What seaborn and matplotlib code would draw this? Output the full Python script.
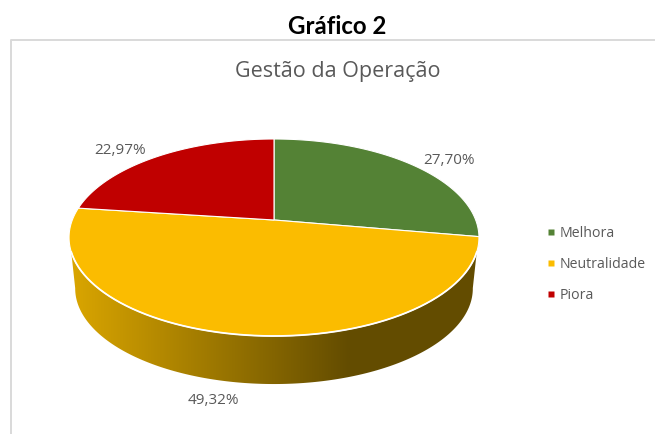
#!/usr/bin/env python
# -*- coding: utf-8 -*-

""" 3D looking pie chart of Gestao da Operacao, saved to out.png """

import numpy as np
import matplotlib as mpl
mpl.use('Agg')

import matplotlib.pyplot as plt
from matplotlib.colors import LinearSegmentedColormap
from matplotlib.lines import Line2D
from matplotlib.patches import Polygon
import seaborn as sns

categories = ['Melhora', 'Neutralidade', 'Piora']
shares = [27.70, 49.32, 22.97]
share_labels = ['27,70%', '49,32%', '22,97%']
colors = ['#548235', '#FBBC00', '#C00000']
side_colors = ['#D9A500', '#634C00']


def project(theta, scale=1.0, drop=0.0):
    # perspective view of the pie circle, axes are in pixels
    t = np.radians(theta)
    denom = 1 + 0.1777 * np.sin(t)
    x = 274 + scale * 201.7 * np.cos(t) / denom
    y = 220 + drop - scale * 95.4 * np.sin(t) / denom
    return np.column_stack([x, y])


def main():
    sns.set_theme(style='white')
    plt.rcParams['font.family'] = ['Open Sans', 'DejaVu Sans']

    fig = plt.figure(figsize=(6.55, 4.34), dpi=100)
    ax = fig.add_axes([0, 0, 1, 1])

    wedges, _ = ax.pie(shares, startangle=90, counterclock=False, frame=False)
    angles = [(w.theta1, w.theta2) for w in wedges]
    for w in wedges:
        w.remove()

    # side wall, only the visible part of the rim
    rim = np.linspace(-161.6, -18.4, 200)
    floor = np.linspace(-10, -170, 200)
    side = Polygon(np.vstack([project(rim), project(floor, 0.97, 51.5)]),
                   closed=True, facecolor='none', edgecolor='none')
    ax.add_patch(side)
    side_cmap = LinearSegmentedColormap.from_list('side', side_colors)
    img = ax.imshow(np.linspace(0, 1, 256).reshape(1, -1), cmap=side_cmap,
                    extent=[73, 350, 400, 240], aspect='auto', zorder=1)
    right = ax.imshow(np.ones((1, 2)), cmap=side_cmap, vmin=0, vmax=1,
                      extent=[350, 485, 400, 240], aspect='auto', zorder=1)
    left = ax.imshow(np.zeros((1, 2)), cmap=side_cmap, vmin=0, vmax=1,
                     extent=[60, 73, 400, 240], aspect='auto', zorder=1)
    img.set_clip_path(side)
    right.set_clip_path(side)
    left.set_clip_path(side)

    # top face
    for (theta1, theta2), color in zip(angles, colors):
        arc = project(np.linspace(theta1, theta2, 200))
        face = np.vstack([[[274, 220]], arc])
        ax.add_patch(Polygon(face, closed=True, facecolor=color, edgecolor='white',
                             linewidth=0.8, joinstyle='round', zorder=2))

    # white rim over the front of the top face
    ax.plot(*project(rim).T, color='white', lw=1.3, zorder=3)

    # chart frame
    ax.plot([11, 11, 655], [434, 40, 40], color='#D9D9D9', lw=1.4, zorder=0)

    label_pos = [(449, 160.5), (213, 401), (120, 150.5)]
    for (x, y), label in zip(label_pos, share_labels):
        ax.text(x, y, label, ha='center', va='center', fontsize=11, color='#595959')

    ax.text(337.5, 26, 'Gráfico 2', ha='center', va='center', fontsize=17.3,
            fontweight='bold', color='black', family=['Lato', 'DejaVu Sans'])
    ax.text(338, 72, 'Gestão da Operação', ha='center', va='center', fontsize=15.5,
            color='#595959')

    handles = [Line2D([], [], linestyle='none', marker='s', markersize=4.2,
                      markerfacecolor=c, markeredgecolor='none') for c in colors]
    ax.legend(handles, categories, loc='center left', bbox_to_anchor=(545, 264.5),
              bbox_transform=ax.transData, frameon=False, fontsize=10.2,
              labelcolor='#595959', labelspacing=1.13, handlelength=0.9,
              handletextpad=0.15, borderpad=0, borderaxespad=0)

    ax.set_aspect('auto')
    ax.set_xlim(0, 655)
    ax.set_ylim(434, 0)
    ax.set_axis_off()

    fig.savefig('out.png', dpi=100, facecolor='white')


if __name__ == '__main__':
    main()
